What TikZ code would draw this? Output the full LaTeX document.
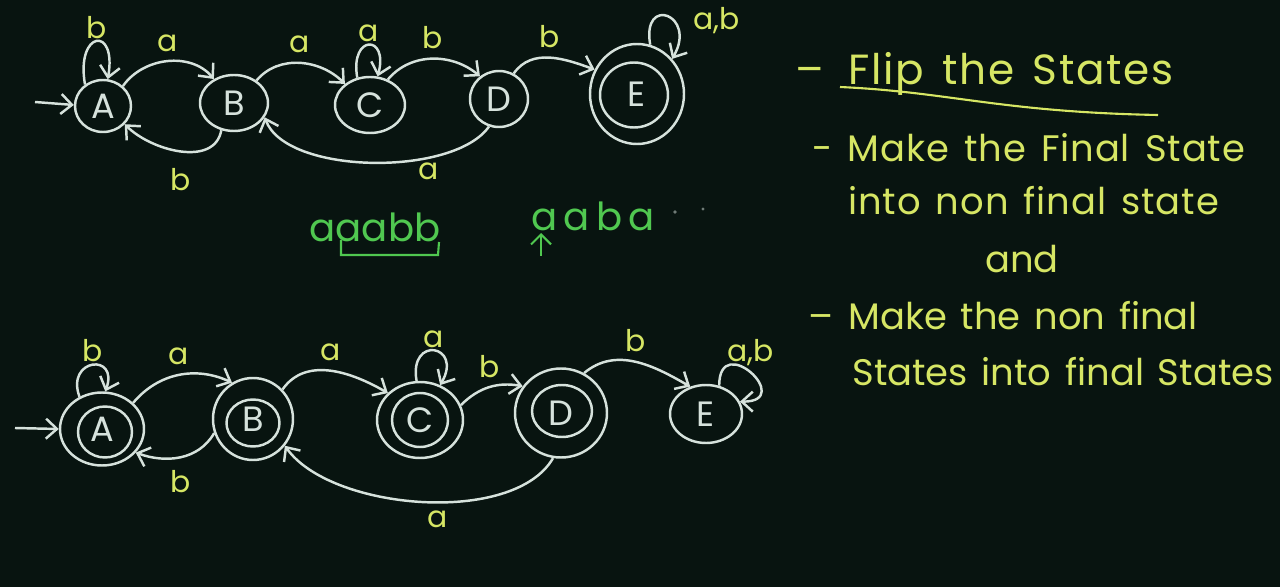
\documentclass[tikz,border=0pt]{standalone}
\usepackage{fontspec}
\setmainfont{Poppins}
\newfontfamily\handfont[WordSpace=1.4]{Poppins}
\newfontfamily\handwide[WordSpace=1.4,LetterSpace=2.5]{Poppins}
\newfontfamily\handtitle[WordSpace=1.4,LetterSpace=4]{Poppins}
\usepackage{tikz}
\usetikzlibrary{arrows.meta,positioning,shapes.geometric,calc}
\definecolor{board}{RGB}{8,20,16}
\definecolor{chalk}{RGB}{214,226,220}
\definecolor{chalkyel}{RGB}{214,230,100}
\definecolor{chalkgrn}{RGB}{80,200,80}

\begin{document}
\begin{tikzpicture}[
  x=0.2mm, y=0.2mm,
  dstate/.style={ellipse, draw=chalk, line width=1.4pt, inner sep=0pt, text=chalk,
                 font=\fontsize{20}{20}\selectfont},
  ring/.style={ellipse, draw=chalk, line width=1.4pt, inner sep=0pt},
  arr/.style={-{Straight Barb[length=2.2mm,width=4mm]}, draw=chalk, line width=1.4pt},
  lbl/.style={text=chalkyel, font=\fontsize{17}{17}\selectfont, inner sep=1pt},
  note/.style={anchor=base west, text=chalkyel, font=\handfont\fontsize{21}{21}\selectfont, inner sep=0pt},
  word/.style={text=chalkgrn, font=\fontsize{22}{22}\selectfont, inner sep=0pt},
]
\useasboundingbox (0,0) rectangle (1280,-587);
\fill[board] (0,0) rectangle (1280,-587);

% original DFA
\node[dstate, minimum width=11.2mm, minimum height=10.4mm] (tA) at (103,-106) {A};
\node[dstate, minimum width=13.6mm, minimum height=11.2mm] (tB) at (234,-103) {B};
\node[dstate, minimum width=14mm, minimum height=11.2mm] (tC) at (370,-105) {C};
\node[dstate, minimum width=11.6mm, minimum height=11.2mm] (tD) at (499,-99) {D};
\node[dstate, minimum width=18.8mm, minimum height=20mm] (tE) at (637,-94) {E};
\node[ring, minimum width=13.6mm, minimum height=13mm] (tEi) at (634,-95) {};

\coordinate (tin) at (35,-102);
\draw[arr] (tin) -- (tA.178);
\draw[arr] (tA.130) to[out=100,in=80,looseness=6] node[lbl,above]{b} (tA.80);
\draw[arr] (tA.45) to[out=55,in=130] node[lbl,above=4pt]{a} (tB.130);
\draw[arr] (tB.245) to[out=-100,in=-45] node[lbl,below=8pt]{b} (tA.-40);
\draw[arr] (tB.45) to[out=50,in=135] node[lbl,above=4pt]{a} (tC.140);
\draw[arr] (tC.115) to[out=100,in=75,looseness=5.5] node[lbl,above]{a} (tC.75);
\draw[arr] (tC.55) to[out=50,in=140] node[lbl,above=4pt]{b} (tD.130);
\draw[arr] (tD.-110) to[out=-125,in=-70,looseness=0.7] node[lbl,below=1pt,pos=0.3]{a} (tB.-25);
\draw[arr] (tD.60) to[out=55,in=160] node[lbl,above=4pt]{b} (tE.150);
\draw[arr] (tE.75) to[out=100,in=60,looseness=5] node[lbl,right=10pt,pos=0.6]{a,b} (tE.45);

% test strings
\node[word] (w1) at (375,-227) {aaabb};
\draw[chalkgrn, line width=1.2pt] (341,-240) -- (341,-255) -- (438,-255) -- (439,-242);
\node[word] (w2) at (593,-216) {a\,a\,b\,a};
\coordinate (up0) at (541,-256);
\coordinate (up1) at (541,-233);
\draw[chalkgrn, line width=1.2pt, -{Straight Barb[length=2mm,width=4mm]}] (up0) -- (up1);
\fill[chalk!50!board] (675,-212) circle (1.1pt);
\fill[chalk!50!board] (703,-209) circle (0.9pt);

% complement DFA
\node[dstate, minimum width=16.8mm, minimum height=14.6mm] (bA) at (102,-429) {A};
\node[ring, minimum width=10.8mm, minimum height=10.2mm] (bAi) at (105,-432) {};
\node[dstate, minimum width=16mm, minimum height=16.4mm] (bB) at (253,-419) {B};
\node[ring, minimum width=10.6mm, minimum height=9.4mm] (bBi) at (253,-423) {};
\node[dstate, minimum width=17.2mm, minimum height=15.2mm] (bC) at (420,-420) {C};
\node[ring, minimum width=11.2mm, minimum height=10.8mm] (bCi) at (420,-420) {};
\node[dstate, minimum width=18.4mm, minimum height=17.8mm] (bD) at (561,-413) {D};
\node[ring, minimum width=12mm, minimum height=10.4mm] (bDi) at (562,-411) {};
\node[dstate, minimum width=14.4mm, minimum height=11.6mm] (bE) at (706,-414) {E};

\coordinate (bin) at (15,-428);
\draw[arr] (bin) -- (bA.180);
\draw[arr] (bA.125) to[out=110,in=70,looseness=4] node[lbl,above]{b} (bA.85);
\draw[arr] (bA.40) to[out=50,in=155] node[lbl,above=4pt]{a} (bB.120);
\draw[arr] (bB.200) to[out=-120,in=-20] node[lbl,below=6pt]{b} (bA.-35);
\draw[arr] (bB.45) to[out=55,in=150] node[lbl,above=4pt]{a} (bC.140);
\draw[arr] (bC.95) to[out=100,in=60,looseness=5] node[lbl,above]{a} (bC.60);
\draw[arr] (bC.20) to[out=45,in=170] node[lbl,above=4pt]{b} (bD.145);
\draw[arr] (bD.-100) to[out=-120,in=-55,looseness=0.75] node[lbl,below=3pt,pos=0.45]{a} (bB.-40);
\draw[arr] (bD.60) to[out=40,in=150] node[lbl,above=4pt]{b} (bE.120);
\draw[arr] (bE.65) to[out=90,in=0,looseness=5.5] node[lbl,above=2pt]{a,b} (bE.20);

% notes
\node[note, font=\handtitle\fontsize{24}{24}\selectfont] (n1) at (795,-85) {–\hspace{5mm}Flip the States};
\draw[chalkyel, line width=1.2pt] (840,-87) .. controls (950,-92) and (1000,-112) .. (1158,-115);
\node[note, font=\handwide\fontsize{21}{21}\selectfont] (n2) at (812,-162) {-\hspace{3mm}Make the Final State};
\node[note, font=\handwide\fontsize{21}{21}\selectfont] (n3) at (848,-215) {into non final state};
\node[note] (n4) at (985,-273) {and};
\node[note] (n5) at (808,-330) {–\hspace{3mm}Make the non final};
\node[note] (n6) at (852,-385) {States into final States};
\end{tikzpicture}
\end{document}
